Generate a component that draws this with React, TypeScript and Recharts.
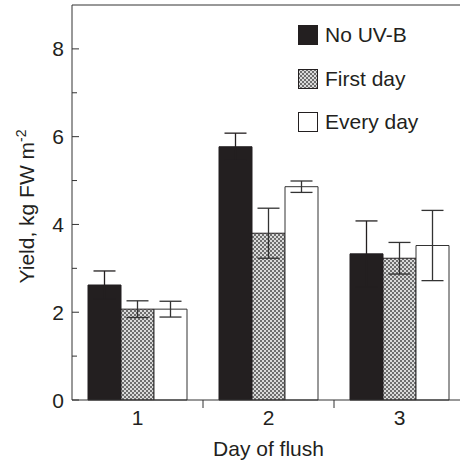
import React from 'react';
import { BarChart, Bar, XAxis, YAxis, ErrorBar, Legend, ReferenceLine } from 'recharts';

const categories = ['1', '2', '3'];
const noUVB = [2.62, 5.77, 3.33];
const noUVBErr = [0.32, 0.31, 0.75];
const firstDay = [2.07, 3.8, 3.23];
const firstDayErr = [0.19, 0.57, 0.36];
const everyDay = [2.07, 4.86, 3.52];
const everyDayErr = [0.18, 0.13, 0.8];
const yTicks = [0, 1, 2, 3, 4, 5, 6, 7, 8];
const yLabeled = [0, 2, 4, 6, 8];
const seriesOrder = ['No UV-B', 'First day', 'Every day'];

const data = categories.map((c, i) => ({
  day: c,
  noUVB: noUVB[i],
  noUVBErr: noUVBErr[i],
  firstDay: firstDay[i],
  firstDayErr: firstDayErr[i],
  everyDay: everyDay[i],
  everyDayErr: everyDayErr[i],
}));

const FONT = '"Liberation Sans", Arial, Helvetica, sans-serif';
const INK = '#231f20';
const AX = '#333';

const YTick = (props: any) => {
  const { x, y, payload } = props;
  const major = yLabeled.includes(payload.value);
  return (
    <g>
      <line x1={x} x2={x + (major ? 7 : 5)} y1={y} y2={y} stroke={AX} strokeWidth={1} />
      {major && (
        <text x={x - 8} y={y} dy="0.36em" textAnchor="end" fontSize={21} fontFamily={FONT} fill={INK}>
          {payload.value}
        </text>
      )}
    </g>
  );
};

const XTick = (props: any) => {
  const { x, y, payload, index, width, visibleTicksCount } = props;
  const half = width / (2 * visibleTicksCount);
  return (
    <g>
      {index < visibleTicksCount - 1 && (
        <line x1={x + half} x2={x + half} y1={y} y2={y + 8} stroke={AX} strokeWidth={1} />
      )}
      <text x={x} y={y + 25} textAnchor="middle" fontSize={21} fontFamily={FONT} fill={INK}>
        {payload.value}
      </text>
    </g>
  );
};

const YLabel = (props: any) => {
  const { viewBox } = props;
  const cx = viewBox.x + 34;
  const cy = viewBox.y + viewBox.height / 2 + 4;
  return (
    <text
      x={cx}
      y={cy}
      transform={`rotate(-90 ${cx} ${cy})`}
      textAnchor="middle"
      fontSize={21}
      fontFamily={FONT}
      fill={INK}
    >
      Yield, kg FW m
      <tspan fontSize={14} dy={-8}>-2</tspan>
    </text>
  );
};

const XLabel = (props: any) => {
  const { viewBox } = props;
  return (
    <text x={viewBox.x + viewBox.width / 2} y={viewBox.y + 56} textAnchor="middle" fontSize={21} fontFamily={FONT} fill={INK}>
      Day of flush
    </text>
  );
};

const LegendContent = (props: any) => {
  const items = [...(props.payload || [])].sort(
    (a: any, b: any) => seriesOrder.indexOf(a.value) - seriesOrder.indexOf(b.value)
  );
  return (
    <div style={{ fontFamily: FONT, fontSize: 21, color: INK }}>
      {items.map((e: any, i: number) => (
        <div key={i} style={{ display: 'flex', alignItems: 'center', height: 20, lineHeight: '20px', marginBottom: 23.5 }}>
          <svg width={21} height={20} style={{ display: 'block', marginRight: 6 }}>
            <rect x={0.5} y={0.5} width={19} height={19} fill={e.color} stroke={INK} strokeWidth={1} />
          </svg>
          <span style={{ whiteSpace: 'nowrap' }}>{e.value}</span>
        </div>
      ))}
    </div>
  );
};

export default function App() {
  return (
    <div style={{ position: 'absolute', left: 0, top: 0, width: 460, height: 464, overflow: 'hidden', background: '#fff' }}>
      <svg width={0} height={0} style={{ position: 'absolute' }}>
        <defs>
          <pattern id="checker" width={4} height={4} patternUnits="userSpaceOnUse">
            <rect width={4} height={4} fill="#dadada" />
            <rect width={2} height={2} fill="#6e6e6e" />
            <rect x={2} y={2} width={2} height={2} fill="#6e6e6e" />
          </pattern>
        </defs>
      </svg>
      <BarChart
        width={470}
        height={464}
        data={data}
        margin={{ top: 5, right: 5, bottom: 0, left: 0 }}
        barGap={0}
        barCategoryGap={16}
      >
        <XAxis
          dataKey="day"
          height={64}
          tickSize={0}
          tickMargin={0}
          tick={<XTick />}
          tickLine={false}
          axisLine={{ stroke: AX, strokeWidth: 1 }}
          label={<XLabel />}
        />
        <YAxis
          width={72}
          domain={[0, 9]}
          ticks={yTicks}
          interval={0}
          tickSize={0}
          tickMargin={0}
          tickLine={false}
          tick={<YTick />}
          axisLine={{ stroke: AX, strokeWidth: 1 }}
          label={<YLabel />}
        />
        <ReferenceLine y={9} stroke={AX} strokeWidth={1} />
        <Legend
          layout="horizontal"
          verticalAlign="middle"
          align="center"
          itemSorter={null as any}
          content={<LegendContent />}
          wrapperStyle={{ position: 'absolute', left: 298, top: 25, width: 'auto', height: 'auto' }}
        />
        <Bar dataKey="noUVB" name="No UV-B" fill={INK} stroke={INK} strokeWidth={1} barSize={33} isAnimationActive={false}>
          <ErrorBar dataKey="noUVBErr" width={11} stroke={INK} strokeWidth={1.3} />
        </Bar>
        <Bar dataKey="firstDay" name="First day" fill="url(#checker)" stroke={INK} strokeWidth={1} barSize={33} isAnimationActive={false}>
          <ErrorBar dataKey="firstDayErr" width={11} stroke={AX} strokeWidth={1.3} />
        </Bar>
        <Bar dataKey="everyDay" name="Every day" fill="#fff" stroke={AX} strokeWidth={1} barSize={33} isAnimationActive={false}>
          <ErrorBar dataKey="everyDayErr" width={11} stroke={AX} strokeWidth={1.3} />
        </Bar>
      </BarChart>
    </div>
  );
}
